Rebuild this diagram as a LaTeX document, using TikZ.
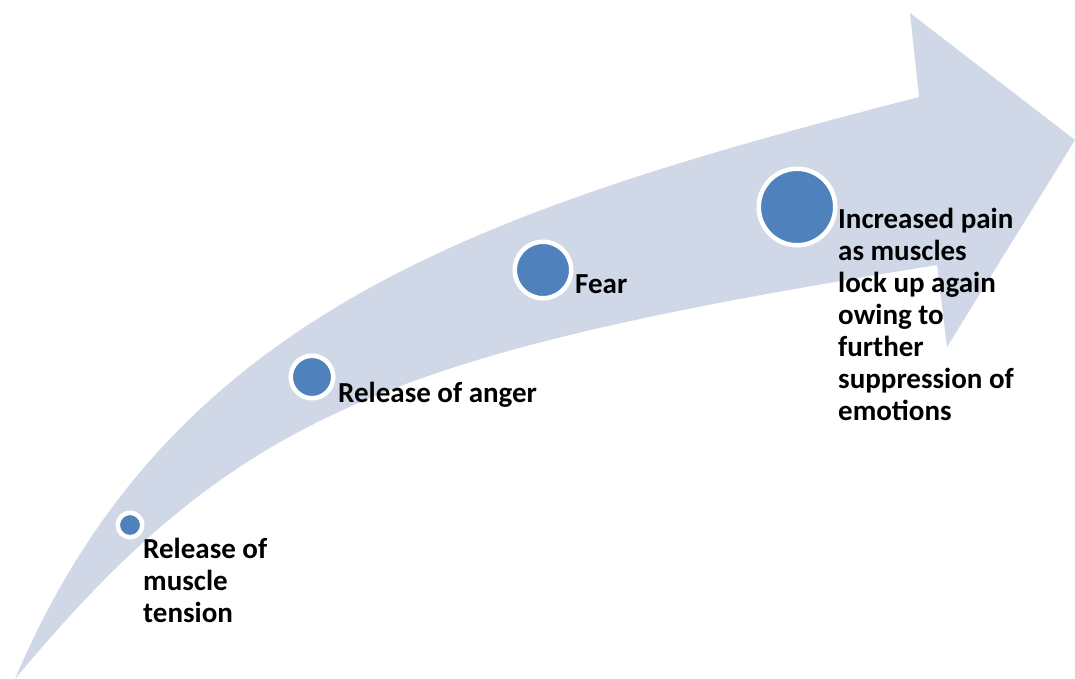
\documentclass[tikz,border=0pt]{standalone}
\usepackage{fontspec}
\setmainfont{Carlito}
\definecolor{arrowfill}{HTML}{D0D8E8}
\definecolor{dotblue}{HTML}{4F81BD}
\tikzset{
    dot/.style = {circle, fill = dotblue, draw = white, line width = 4.5pt, inner sep = 0pt},
    steptext/.style = {anchor = base west, align = left, inner sep = 0pt,
        font = \fontsize{29}{32}\selectfont\bfseries}
}
\begin{document}
\begin{tikzpicture}[x = 1pt, y = -1pt]
    \useasboundingbox (0, 0) rectangle (1075, 679);

    % the bent arrow
    \fill [arrowfill] (15, 679) .. controls (171, 311) and (483, 209.5) .. (919, 97)
        -- (910, 13) -- (1075, 140) -- (947, 347) -- (937, 265)
        .. controls (394, 353) and (239, 409.5) .. (15, 679)
        -- cycle;

    \node [dot, minimum size = 24.5pt] (a)at(130, 525) {};
    \node [dot, minimum size = 42.5pt] (b)at(312, 377) {};
    \node [dot, minimum size = 56.5pt] (c)at(543, 270) {};
    \node [dot, minimum size = 76.5pt] (d)at(797, 207) {};

    % base is the last line
    \node [steptext] (1)at(143, 622) {Release of\\muscle\\tension};
    \node [steptext] (2)at(338, 402) {Release of anger};
    \node [steptext] (3)at(575, 293) {Fear};
    \node [steptext] (4)at(838, 420) {Increased pain\\as muscles\\lock up again\\owing to\\further\\suppression of\\emotions};
\end{tikzpicture}
\end{document}
